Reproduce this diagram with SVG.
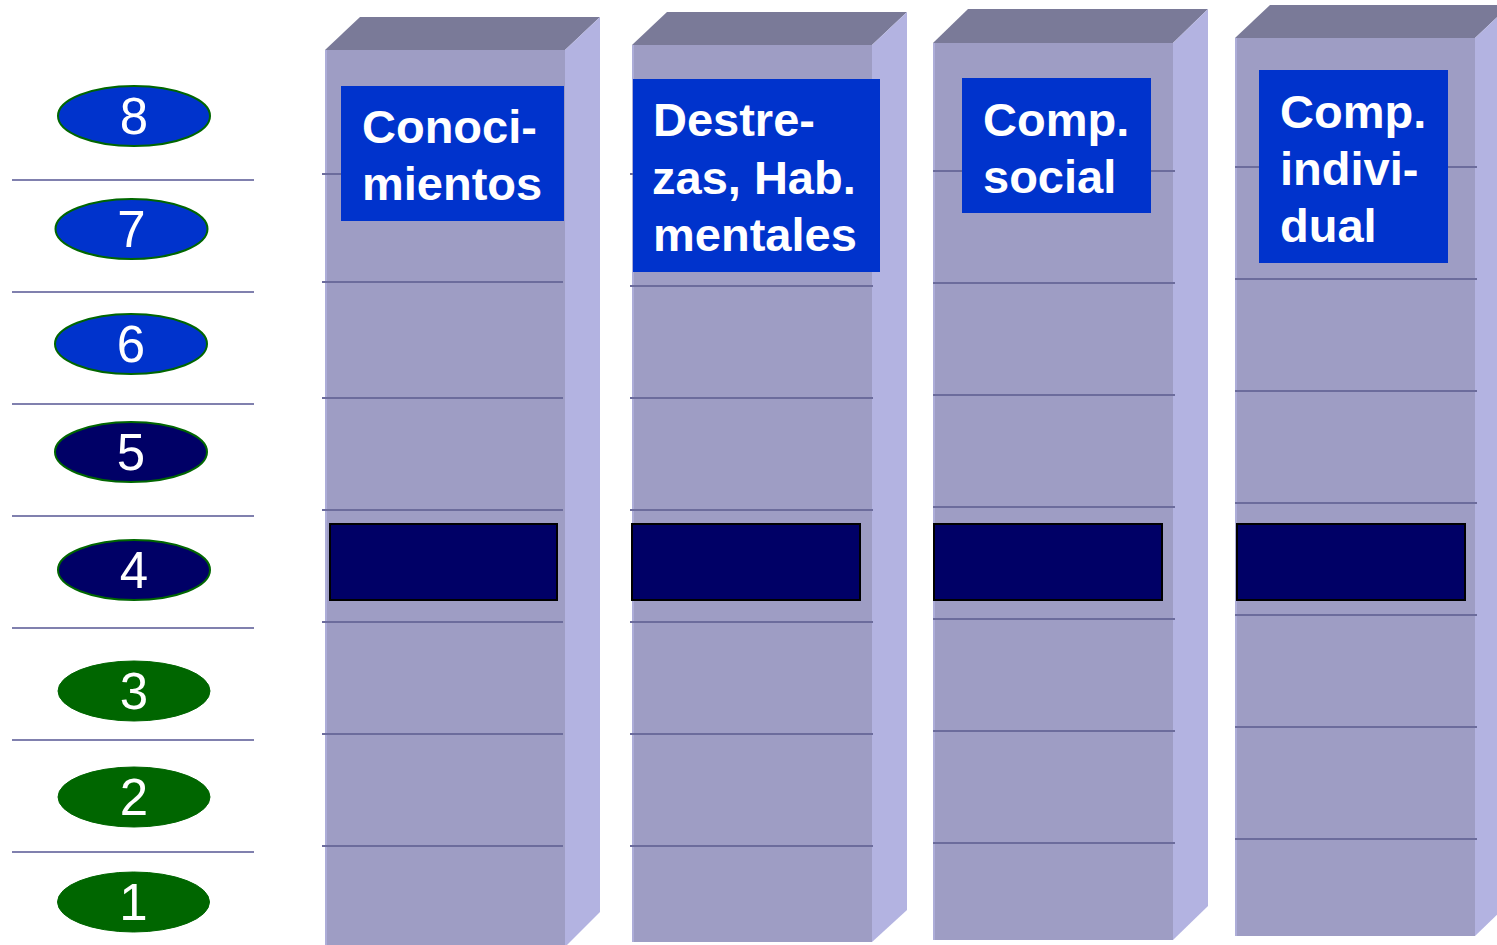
<svg xmlns="http://www.w3.org/2000/svg" width="1497" height="945" viewBox="0 0 1497 945">
<style>
.front{fill:#9E9DC4}
.edge{stroke:#ADADD8;stroke-width:2}
.top{fill:#7A7A98}
.side{fill:#B3B3E1}
.rule{stroke:#6C6C9C;stroke-width:2}
.lrule{stroke:#8080AE;stroke-width:2}
.bar{fill:#000066;stroke:#000000;stroke-width:2}
.lbl{fill:#0033CC}
.lt{font-family:"Liberation Sans",Arial,sans-serif;font-weight:bold;font-size:47px;fill:#FFFFFF}
.num{font-family:"Liberation Sans",Arial,sans-serif;font-size:51px;fill:#FFFFFF;text-anchor:middle}
.eb{fill:#0033CC;stroke:#006600;stroke-width:2}
.ed{fill:#000066;stroke:#006600;stroke-width:2}
.eg{fill:#006600;stroke:#006600;stroke-width:1}
</style>
<rect width="1497" height="945" fill="#FFFFFF"/>
<g id="levels">
<line class="lrule" x1="12" y1="180" x2="254" y2="180"/>
<line class="lrule" x1="12" y1="292" x2="254" y2="292"/>
<line class="lrule" x1="12" y1="404" x2="254" y2="404"/>
<line class="lrule" x1="12" y1="516" x2="254" y2="516"/>
<line class="lrule" x1="12" y1="628" x2="254" y2="628"/>
<line class="lrule" x1="12" y1="740" x2="254" y2="740"/>
<line class="lrule" x1="12" y1="852" x2="254" y2="852"/>
</g>
<g id="level8"><ellipse class="eb" cx="134" cy="116" rx="76" ry="30"/><text class="num" x="134" y="134">8</text></g>
<g id="level7"><ellipse class="eb" cx="131.5" cy="229" rx="76" ry="30"/><text class="num" x="131.5" y="247">7</text></g>
<g id="level6"><ellipse class="eb" cx="131" cy="344" rx="76" ry="30"/><text class="num" x="131" y="362">6</text></g>
<g id="level5"><ellipse class="ed" cx="131" cy="452" rx="76" ry="30"/><text class="num" x="131" y="470">5</text></g>
<g id="level4"><ellipse class="ed" cx="134" cy="570" rx="76" ry="30"/><text class="num" x="134" y="588">4</text></g>
<g id="level3"><ellipse class="eg" cx="134" cy="691" rx="76" ry="30"/><text class="num" x="134" y="709">3</text></g>
<g id="level2"><ellipse class="eg" cx="134" cy="797" rx="76" ry="30"/><text class="num" x="134" y="815">2</text></g>
<g id="level1"><ellipse class="eg" cx="133.5" cy="902" rx="76" ry="30"/><text class="num" x="133.5" y="920">1</text></g>

<g id="col1">
<polygon class="top" points="325,50 360,17 600,17 565,50"/>
<polygon class="side" points="565,50 600,17 600,912 565,947"/>
<rect class="front" x="325" y="50" width="240" height="900"/>
<line class="edge" x1="326" y1="50" x2="326" y2="945"/>
<line class="rule" x1="322" y1="174" x2="563" y2="174"/>
<line class="rule" x1="322" y1="282" x2="563" y2="282"/>
<line class="rule" x1="322" y1="398" x2="563" y2="398"/>
<line class="rule" x1="322" y1="510" x2="563" y2="510"/>
<line class="rule" x1="322" y1="622" x2="563" y2="622"/>
<line class="rule" x1="322" y1="734" x2="563" y2="734"/>
<line class="rule" x1="322" y1="846" x2="563" y2="846"/>
<rect class="bar" x="330" y="524" width="227" height="76"/>
<rect class="lbl" x="341" y="86" width="223" height="135"/>
<text class="lt" x="362" y="143">Conoci-</text>
<text class="lt" x="362" y="200">mientos</text>
</g>

<g id="col2">
<polygon class="top" points="632,45 667,12 907,12 872,45"/>
<polygon class="side" points="872,45 907,12 907,910 872,942"/>
<rect class="front" x="632" y="45" width="240" height="897"/>
<line class="edge" x1="633" y1="45" x2="633" y2="942"/>
<line class="rule" x1="630" y1="174" x2="873" y2="174"/>
<line class="rule" x1="630" y1="286" x2="873" y2="286"/>
<line class="rule" x1="630" y1="398" x2="873" y2="398"/>
<line class="rule" x1="630" y1="510" x2="873" y2="510"/>
<line class="rule" x1="630" y1="622" x2="873" y2="622"/>
<line class="rule" x1="630" y1="734" x2="873" y2="734"/>
<line class="rule" x1="630" y1="846" x2="873" y2="846"/>
<rect class="bar" x="632" y="524" width="228" height="76"/>
<rect class="lbl" x="633" y="79" width="247" height="193"/>
<text class="lt" x="653" y="136">Destre-</text>
<text class="lt" x="652" y="194">zas, Hab.</text>
<text class="lt" x="653" y="251">mentales</text>
</g>

<g id="col3">
<polygon class="top" points="933,43 968,9 1208,9 1173,43"/>
<polygon class="side" points="1173,43 1208,9 1208,906 1173,940"/>
<rect class="front" x="933" y="43" width="240" height="897"/>
<line class="edge" x1="934" y1="43" x2="934" y2="940"/>
<line class="rule" x1="933" y1="171" x2="1175" y2="171"/>
<line class="rule" x1="933" y1="283" x2="1175" y2="283"/>
<line class="rule" x1="933" y1="395" x2="1175" y2="395"/>
<line class="rule" x1="933" y1="507" x2="1175" y2="507"/>
<line class="rule" x1="933" y1="619" x2="1175" y2="619"/>
<line class="rule" x1="933" y1="731" x2="1175" y2="731"/>
<line class="rule" x1="933" y1="843" x2="1175" y2="843"/>
<rect class="bar" x="934" y="524" width="228" height="76"/>
<rect class="lbl" x="962" y="78" width="189" height="135"/>
<text class="lt" x="983" y="136">Comp.</text>
<text class="lt" x="983" y="193">social</text>
</g>

<g id="col4">
<polygon class="top" points="1235,38 1270,5 1510,5 1475,38"/>
<polygon class="side" points="1475,38 1510,5 1510,902 1475,936"/>
<rect class="front" x="1235" y="38" width="240" height="898"/>
<line class="edge" x1="1236" y1="38" x2="1236" y2="936"/>
<line class="rule" x1="1235" y1="167" x2="1477" y2="167"/>
<line class="rule" x1="1235" y1="279" x2="1477" y2="279"/>
<line class="rule" x1="1235" y1="391" x2="1477" y2="391"/>
<line class="rule" x1="1235" y1="503" x2="1477" y2="503"/>
<line class="rule" x1="1235" y1="615" x2="1477" y2="615"/>
<line class="rule" x1="1235" y1="727" x2="1477" y2="727"/>
<line class="rule" x1="1235" y1="839" x2="1477" y2="839"/>
<rect class="bar" x="1237" y="524" width="228" height="76"/>
<rect class="lbl" x="1259" y="70" width="189" height="193"/>
<text class="lt" x="1280" y="128">Comp.</text>
<text class="lt" x="1280" y="185">indivi-</text>
<text class="lt" x="1280" y="242">dual</text>
</g>
<g id="connectors"/>
</svg>
